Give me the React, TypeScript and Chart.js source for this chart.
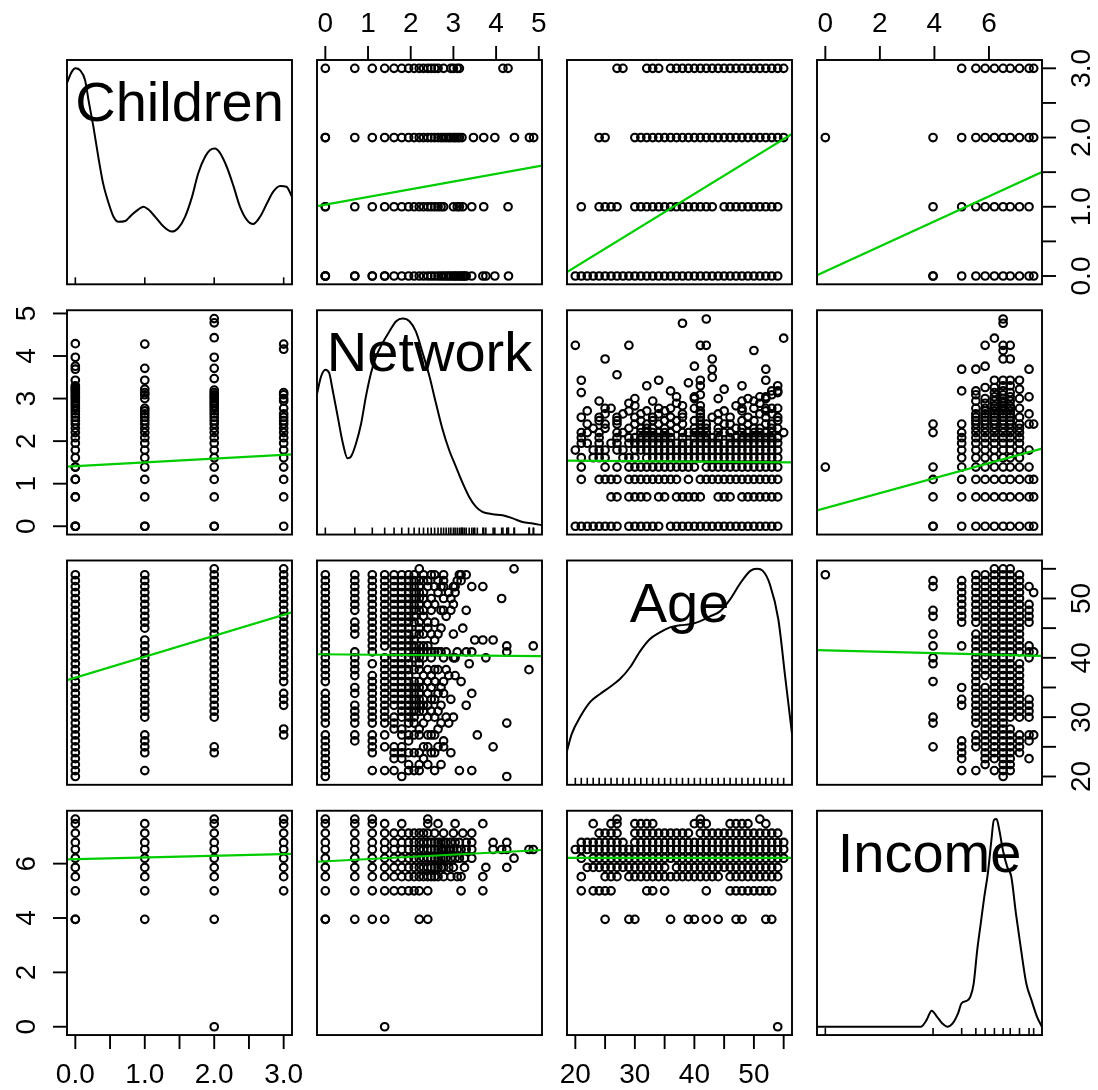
import React, { useEffect, useRef } from "react";
import { Chart, registerables } from "chart.js";

Chart.register(...registerables);

// ---------------- variables ----------------
const variableNames = ["Children", "Network", "Age", "Income"];
const variableMin = [0, 0, 20, 0];
const variableMax = [3, 4.88, 55, 7.64];

// ---------------- ticks ----------------
const childrenTicks = [0, 0.5, 1, 1.5, 2, 2.5, 3];
const childrenTickLabels = ["0.0", "", "1.0", "", "2.0", "", "3.0"];
const networkTicks = [0, 1, 2, 3, 4, 5];
const networkTickLabels = ["0", "1", "2", "3", "4", "5"];
const ageTicks = [20, 25, 30, 35, 40, 45, 50, 55];
const ageTickLabels = ["20", "", "30", "", "40", "", "50", ""];
const incomeTicks = [0, 2, 4, 6];
const incomeTickLabels = ["0", "2", "4", "6"];

// ---------------- Children x Network (network values per children level) ----------------
const networkChildren0 = [0, 0, 0, 0.69, 0.69, 1.1, 1.1, 1.39, 1.39, 1.61, 1.79, 1.95, 2.08, 2.2, 2.3, 2.4, 2.48, 2.56, 2.64, 2.71, 2.77, 2.83, 2.89, 2.94, 3.0, 3.04, 3.09, 3.14, 3.18, 3.22, 3.26, 3.3, 3.43, 3.69, 3.76, 3.97, 4.29];
const networkChildren1 = [0, 0, 0.69, 1.1, 1.39, 1.61, 1.79, 1.95, 2.08, 2.2, 2.3, 2.4, 2.48, 2.56, 2.64, 2.71, 2.77, 3.0, 3.09, 3.14, 3.22, 3.43, 3.71, 4.28];
const networkChildren2 = [0, 0, 0.69, 1.1, 1.39, 1.61, 1.79, 1.95, 2.08, 2.2, 2.3, 2.4, 2.48, 2.56, 2.64, 2.71, 2.77, 2.83, 2.89, 2.94, 3.0, 3.04, 3.09, 3.14, 3.2, 3.47, 3.71, 3.97, 4.43, 4.78, 4.88];
const networkChildren3 = [0, 0.69, 1.1, 1.39, 1.61, 1.79, 1.95, 2.08, 2.2, 2.3, 2.4, 2.48, 2.56, 2.64, 2.77, 2.94, 3.0, 3.09, 3.14, 4.16, 4.28];

// ---------------- Children x Age (ages per children level) ----------------
const ageChildren0 = [20, 21, 22, 23, 24, 25, 26, 27, 28, 29, 30, 31, 32, 33, 34, 35, 36, 37, 38, 39, 40, 41, 42, 43, 44, 45, 46, 47, 48, 49, 50, 51, 52, 53, 54];
const ageChildren1 = [21, 24, 25, 26, 27, 30, 31, 32, 33, 34, 35, 36, 37, 38, 39, 40, 41, 42, 43, 45, 46, 47, 48, 49, 50, 51, 52, 53, 54];
const ageChildren2 = [24, 25, 30, 31, 32, 33, 34, 35, 36, 37, 38, 39, 40, 41, 42, 43, 44, 45, 46, 47, 48, 49, 50, 51, 52, 53, 54, 55];
const ageChildren3 = [27, 28, 32, 33, 34, 36, 37, 38, 39, 40, 41, 42, 43, 44, 45, 46, 47, 48, 49, 50, 51, 52, 53, 54, 55];

// ---------------- Children x Income (income per children level) ----------------
const incomeChildren0 = [3.95, 3.95, 5.0, 5.52, 5.86, 6.2, 6.52, 6.78, 7.12, 7.47, 7.64];
const incomeChildren1 = [3.95, 5.0, 5.52, 5.86, 6.2, 6.52, 6.78, 7.12, 7.47];
const incomeChildren2 = [0, 3.95, 5.0, 5.52, 5.86, 6.2, 6.52, 6.78, 7.12, 7.47, 7.64];
const incomeChildren3 = [5.0, 5.52, 5.86, 6.2, 6.52, 6.78, 7.12, 7.47, 7.64];

// ---------------- Network x Age: [network, ages] ----------------
const ageByNetwork: [number, number[]][] = [
  [0, [20, 21, 22, 23, 24, 25, 26, 27, 29, 30, 31, 32, 33, 34, 36, 37, 38, 39, 40, 41, 42, 43, 44, 45, 46, 47, 48, 49, 50, 51, 52, 53, 54]],
  [0.69, [26, 27, 29, 30, 31, 32, 34, 35, 37, 38, 39, 40, 41, 44, 45, 46, 48, 49, 50, 51, 52, 53, 54]],
  [1.1, [21, 24, 25, 26, 27, 29, 30, 31, 32, 33, 34, 35, 36, 37, 39, 41, 42, 43, 44, 45, 46, 47, 48, 49, 50, 51, 52, 53, 54]],
  [1.39, [21, 25, 27, 29, 30, 31, 32, 33, 34, 35, 36, 37, 38, 39, 40, 42, 43, 44, 45, 46, 47, 48, 49, 50, 51, 52, 53, 54]],
  [1.61, [21, 23, 24, 25, 28, 29, 30, 32, 33, 34, 35, 36, 37, 38, 39, 40, 41, 42, 43, 44, 45, 46, 47, 48, 49, 50, 51, 52, 53, 54]],
  [1.79, [20, 23, 24, 25, 27, 28, 30, 31, 32, 33, 34, 35, 36, 37, 38, 39, 40, 41, 42, 43, 44, 45, 46, 47, 48, 49, 50, 51, 52, 53, 54]],
  [1.95, [21, 22, 24, 26, 27, 29, 30, 31, 32, 33, 34, 35, 36, 37, 38, 39, 40, 41, 42, 43, 44, 45, 46, 47, 48, 49, 50, 51, 52, 53, 54]],
  [2.08, [21, 24, 27, 29, 30, 31, 32, 33, 34, 35, 36, 38, 40, 41, 42, 43, 44, 46, 47, 48, 49, 50, 51, 52, 53, 54]],
  [2.2, [21, 22, 24, 27, 28, 31, 32, 33, 34, 35, 36, 38, 39, 40, 41, 42, 44, 45, 46, 48, 49, 50, 51, 52, 53, 55]],
  [2.3, [23, 25, 29, 31, 32, 33, 35, 37, 40, 41, 42, 44, 47, 48, 50, 51, 53, 54]],
  [2.4, [22, 25, 27, 30, 32, 34, 36, 38, 41, 42, 45, 46, 49, 52, 53]],
  [2.48, [24, 27, 31, 33, 35, 37, 40, 41, 44, 48, 50, 54]],
  [2.56, [21, 24, 27, 30, 33, 36, 38, 41, 43, 46, 49, 52, 54]],
  [2.64, [25, 28, 31, 34, 38, 41, 44, 51, 53]],
  [2.71, [22, 29, 32, 35, 41, 45, 48, 52]],
  [2.77, [25, 26, 34, 36, 40, 48, 50, 52, 53, 54]],
  [2.83, [30, 38, 41, 47]],
  [2.89, [29, 37, 51]],
  [2.94, [24, 33, 48, 50]],
  [3.0, [30, 40, 44, 49, 52]],
  [3.04, [37, 40, 51, 52]],
  [3.09, [41, 53]],
  [3.14, [21, 54]],
  [3.18, [36, 53, 54]],
  [3.22, [45]],
  [3.3, [32, 41, 48, 54]],
  [3.37, [39]],
  [3.43, [21, 34, 41, 52]],
  [3.5, [43]],
  [3.56, [27]],
  [3.69, [43, 52]],
  [3.76, [40]],
  [3.93, [25, 43]],
  [4.13, [50]],
  [4.25, [20, 29, 41, 42]],
  [4.42, [55]],
  [4.77, [38]],
  [4.87, [42]],
];

// ---------------- Network x Income: [income, network values] ----------------
const networkByIncome: [number, number[]][] = [
  [0, [1.39]],
  [3.95, [0, 0, 0.69, 1.1, 1.39, 2.2, 2.4]],
  [5.0, [0, 0.69, 1.1, 1.39, 1.61, 1.79, 1.95, 2.08, 2.2, 2.4, 3.18, 3.69]],
  [5.52, [0, 0.69, 1.1, 1.39, 1.61, 1.79, 1.95, 2.08, 2.2, 2.3, 2.4, 2.48, 2.56, 2.64, 2.77, 2.94, 3.09, 3.18, 3.69]],
  [5.86, [0, 0.69, 1.1, 1.39, 1.61, 1.79, 1.95, 2.08, 2.2, 2.3, 2.4, 2.48, 2.56, 2.64, 2.71, 2.77, 2.89, 3.0, 3.26, 3.76, 4.25]],
  [6.2, [0, 0.69, 1.1, 1.39, 1.61, 1.79, 1.95, 2.08, 2.2, 2.3, 2.4, 2.48, 2.56, 2.64, 2.71, 2.77, 2.83, 2.94, 3.04, 3.14, 3.26, 3.43, 4.42]],
  [6.52, [0, 0.69, 1.1, 1.39, 1.61, 1.79, 1.95, 2.08, 2.2, 2.3, 2.4, 2.48, 2.56, 2.64, 2.71, 2.77, 2.83, 2.89, 2.94, 3.0, 3.09, 3.18, 3.3, 3.43, 3.93, 4.13, 4.25, 4.77, 4.87]],
  [6.78, [0, 0.69, 1.1, 1.39, 1.61, 1.79, 1.95, 2.08, 2.2, 2.3, 2.4, 2.48, 2.56, 2.64, 2.71, 2.77, 2.83, 2.94, 3.04, 3.14, 3.3, 3.43, 3.93, 4.25]],
  [7.12, [0, 0.69, 1.1, 1.39, 1.61, 1.79, 1.95, 2.08, 2.2, 2.3, 2.4, 2.56, 2.77, 3.0, 3.22, 3.43]],
  [7.47, [0, 0.69, 1.1, 1.39, 1.79, 2.4, 2.64, 3.04, 3.69]],
  [7.64, [0, 0.69, 1.1, 2.4]],
];

// ---------------- Age x Income: [income, ages] ----------------
const ageByIncome: [number, number[]][] = [
  [0, [54]],
  [3.95, [25, 29, 30, 36, 39, 40, 42, 44, 47, 48, 52, 53]],
  [5.0, [21, 23, 24, 25, 26, 32, 33, 35, 42, 46, 47, 48, 49, 50, 51, 52, 53]],
  [5.52, [21, 25, 26, 27, 29, 30, 31, 32, 33, 34, 35, 36, 37, 38, 39, 40, 41, 42, 43, 44, 46, 47, 48, 49, 50, 51, 52, 53, 54]],
  [5.86, [22, 23, 24, 25, 26, 27, 28, 29, 30, 31, 32, 33, 34, 35, 37, 38, 39, 40, 41, 42, 43, 44, 45, 46, 47, 48, 49, 50, 51, 52, 53, 54]],
  [6.2, [21, 23, 24, 25, 26, 27, 28, 29, 30, 31, 32, 33, 34, 35, 36, 37, 38, 39, 40, 41, 42, 43, 44, 45, 46, 47, 48, 49, 50, 51, 52, 53, 54, 55]],
  [6.52, [20, 21, 22, 23, 24, 25, 26, 27, 28, 29, 30, 31, 32, 33, 34, 35, 36, 37, 38, 39, 40, 41, 42, 43, 44, 45, 46, 47, 48, 49, 50, 51, 52, 53, 54, 55]],
  [6.78, [21, 22, 23, 24, 25, 26, 27, 28, 30, 31, 32, 33, 34, 35, 36, 37, 38, 39, 40, 41, 42, 43, 44, 45, 46, 47, 48, 49, 50, 51, 52, 53, 54, 55]],
  [7.12, [24, 25, 26, 27, 30, 31, 32, 33, 34, 35, 36, 37, 38, 39, 41, 42, 43, 44, 45, 46, 47, 48, 49, 50, 51, 52, 53, 54]],
  [7.47, [23, 26, 27, 30, 31, 32, 33, 40, 41, 42, 46, 47, 48, 49, 52]],
  [7.64, [27, 41, 51]],
];

// ---------------- regression lines: row variable (y) on column variable (x) ----------------
const fitIntercept = [
  [NaN, 1.032, -0.922, 0.065],
  [1.411, NaN, 1.56, 0.424],
  [36.66, 40.59, NaN, 41.245],
  [6.167, 6.086, 6.21, NaN],
];
const fitSlope = [
  [NaN, 0.111, 0.0527, 0.181],
  [0.0895, NaN, -0.00106, 0.176],
  [3.53, -0.057, NaN, -0.115],
  [0.062, 0.082, 0, NaN],
];

// ---------------- kernel densities (relative height, peak = 1) ----------------
const childrenDensity: [number, number][] = [
  [-0.12, 0.93], [-0.05, 0.984], [0.0, 1.0], [0.07, 0.99], [0.14, 0.944], [0.19, 0.846], [0.26, 0.719],
  [0.33, 0.575], [0.4, 0.446], [0.48, 0.35], [0.55, 0.285], [0.62, 0.261], [0.72, 0.265], [0.81, 0.294],
  [0.91, 0.321], [0.98, 0.334], [1.05, 0.321], [1.15, 0.285], [1.27, 0.238], [1.39, 0.214], [1.48, 0.23],
  [1.58, 0.285], [1.68, 0.381], [1.77, 0.495], [1.87, 0.575], [1.94, 0.607], [2.01, 0.614], [2.08, 0.594],
  [2.18, 0.526], [2.28, 0.43], [2.37, 0.334], [2.47, 0.27], [2.56, 0.25], [2.66, 0.285], [2.76, 0.35],
  [2.85, 0.406], [2.95, 0.433], [3.04, 0.43], [3.12, 0.381],
];
const networkDensity: [number, number][] = [
  [-0.2, 0.633], [-0.1, 0.721], [0.0, 0.754], [0.09, 0.738], [0.17, 0.657], [0.29, 0.528], [0.41, 0.4],
  [0.52, 0.327], [0.6, 0.335], [0.72, 0.4], [0.84, 0.496], [0.95, 0.624], [1.07, 0.738], [1.19, 0.818],
  [1.34, 0.882], [1.5, 0.938], [1.66, 0.987], [1.81, 1.0], [1.97, 0.987], [2.12, 0.938], [2.28, 0.834],
  [2.44, 0.721], [2.59, 0.593], [2.75, 0.463], [2.9, 0.367], [3.06, 0.286], [3.22, 0.206], [3.37, 0.141],
  [3.53, 0.093], [3.68, 0.069], [3.92, 0.058], [4.15, 0.053], [4.39, 0.038], [4.62, 0.02], [4.86, 0.013],
  [5.07, 0.005],
];
const ageDensity: [number, number][] = [
  [18.6, 0.123], [19.4, 0.205], [20.8, 0.286], [22.5, 0.359], [24.1, 0.396], [25.8, 0.431], [27.5, 0.469],
  [29.2, 0.526], [30.9, 0.604], [32.5, 0.661], [34.2, 0.694], [35.9, 0.718], [37.6, 0.728], [39.3, 0.733],
  [40.9, 0.747], [42.6, 0.771], [44.3, 0.795], [46.0, 0.853], [47.7, 0.93], [49.4, 0.99], [50.5, 1.0],
  [51.5, 0.99], [52.7, 0.924], [54.1, 0.757], [55.3, 0.469], [56.4, 0.205],
];
const incomeDensity: [number, number][] = [
  [-0.3, 0.0], [3.5, 0.0], [3.71, 0.032], [3.9, 0.077], [4.09, 0.049], [4.29, 0.016], [4.48, 0.0],
  [4.67, 0.016], [4.87, 0.065], [4.99, 0.112], [5.19, 0.125], [5.32, 0.145], [5.44, 0.208], [5.57, 0.369],
  [5.7, 0.498], [5.83, 0.626], [5.96, 0.739], [6.09, 0.899], [6.18, 0.995], [6.28, 1.0], [6.38, 0.947],
  [6.51, 0.851], [6.67, 0.77], [6.82, 0.722], [6.99, 0.545], [7.18, 0.369], [7.37, 0.208], [7.56, 0.128],
  [7.76, 0.049], [7.94, 0.0],
];

// ---------------- layout constants ----------------
const PANEL_LEFT0 = 67;
const PANEL_TOP0 = 60;
const STEP_X = 250;
const STEP_Y = 250.25;
const PANEL_W = 225;
const PANEL_H = 224.3;
const MARGIN = 62;
const FONT_FAMILY = '"Liberation Sans", Arial, Helvetica, sans-serif';
const LABEL_FONT = "28px " + FONT_FAMILY;
const TITLE_FONT = "56px " + FONT_FAMILY;
const GREEN = "#00CD00";
const TICK_LEN = 14;

const tickValues = [childrenTicks, networkTicks, ageTicks, incomeTicks];
const tickLabels = [childrenTickLabels, networkTickLabels, ageTickLabels, incomeTickLabels];
const densities = [childrenDensity, networkDensity, ageDensity, incomeDensity];

function extRange(k: number): [number, number] {
  const span = variableMax[k] - variableMin[k];
  return [variableMin[k] - 0.04 * span, variableMax[k] + 0.04 * span];
}

// records for pair (a, b) with a < b: [value of a, value of b]
function pairRecords(a: number, b: number): [number, number][] {
  const out: [number, number][] = [];
  const byChildren = (lists: number[][]) =>
    lists.forEach((vals, c) => vals.forEach((v) => out.push([c, v])));
  const key = `${a}${b}`;
  if (key === "01") byChildren([networkChildren0, networkChildren1, networkChildren2, networkChildren3]);
  if (key === "02") byChildren([ageChildren0, ageChildren1, ageChildren2, ageChildren3]);
  if (key === "03") byChildren([incomeChildren0, incomeChildren1, incomeChildren2, incomeChildren3]);
  if (key === "12") ageByNetwork.forEach(([n, ages]) => ages.forEach((ag) => out.push([n, ag])));
  if (key === "13") networkByIncome.forEach(([inc, nets]) => nets.forEach((n) => out.push([n, inc])));
  if (key === "23") ageByIncome.forEach(([inc, ages]) => ages.forEach((ag) => out.push([ag, inc])));
  return out;
}

function panelPoints(i: number, j: number) {
  if (i < j) return pairRecords(i, j).map(([a, b]) => ({ x: b, y: a }));
  return pairRecords(j, i).map(([a, b]) => ({ x: a, y: b }));
}

function uniqueValues(k: number): number[] {
  const s = new Set<number>();
  for (let o = 0; o < 4; o++) {
    if (o === k) continue;
    const a = Math.min(k, o), b = Math.max(k, o);
    pairRecords(a, b).forEach((r) => s.add(k === a ? r[0] : r[1]));
  }
  return Array.from(s).sort((p, q) => p - q);
}

function geometry(i: number, j: number) {
  const pl = PANEL_LEFT0 + STEP_X * j;
  const pt = PANEL_TOP0 + STEP_Y * i;
  const cx = Math.floor(pl - MARGIN);
  const cy = Math.floor(pt - MARGIN);
  const cw = Math.ceil(PANEL_W + 2 * MARGIN) + 2;
  const ch = Math.ceil(PANEL_H + 2 * MARGIN) + 2;
  const padL = pl - cx;
  const padT = pt - cy;
  return {
    cx, cy, cw, ch,
    padding: { left: padL, top: padT, right: cw - padL - PANEL_W, bottom: ch - padT - PANEL_H },
  };
}

function decorPlugin(i: number, j: number) {
  return {
    id: "decor",
    afterDraw(chart: any) {
      const ctx: CanvasRenderingContext2D = chart.ctx;
      const area = chart.chartArea;
      const xs = chart.scales.x;
      const ys = chart.scales.y;
      const seg = (x1: number, y1: number, x2: number, y2: number) => {
        ctx.beginPath();
        ctx.moveTo(x1, y1);
        ctx.lineTo(x2, y2);
        ctx.stroke();
      };
      ctx.save();
      ctx.strokeStyle = "#000";
      ctx.fillStyle = "#000";
      ctx.lineWidth = 1.9;
      ctx.strokeRect(area.left, area.top, area.right - area.left, area.bottom - area.top);
      ctx.font = LABEL_FONT;
      ctx.textAlign = "center";
      ctx.textBaseline = "alphabetic";
      // top axis
      if (i === 0 && j % 2 === 1) {
        tickValues[j].forEach((v, k) => {
          const x = xs.getPixelForValue(v);
          seg(x, area.top, x, area.top - TICK_LEN);
          if (tickLabels[j][k]) ctx.fillText(tickLabels[j][k], x, area.top - 28);
        });
      }
      // bottom axis
      if (i === 3 && j % 2 === 0) {
        tickValues[j].forEach((v, k) => {
          const x = xs.getPixelForValue(v);
          seg(x, area.bottom, x, area.bottom + TICK_LEN);
          if (tickLabels[j][k]) ctx.fillText(tickLabels[j][k], x, area.bottom + 48);
        });
      }
      // left axis
      if (j === 0 && i % 2 === 1) {
        tickValues[i].forEach((v, k) => {
          const y = ys.getPixelForValue(v);
          seg(area.left, y, area.left - TICK_LEN, y);
          if (tickLabels[i][k]) {
            ctx.save();
            ctx.translate(area.left - 32, y);
            ctx.rotate(-Math.PI / 2);
            ctx.fillText(tickLabels[i][k], 0, 0);
            ctx.restore();
          }
        });
      }
      // right axis
      if (j === 3 && i % 2 === 0) {
        tickValues[i].forEach((v, k) => {
          const y = ys.getPixelForValue(v);
          seg(area.right, y, area.right + TICK_LEN, y);
          if (tickLabels[i][k]) {
            ctx.save();
            ctx.translate(area.right + 48, y);
            ctx.rotate(-Math.PI / 2);
            ctx.fillText(tickLabels[i][k], 0, 0);
            ctx.restore();
          }
        });
      }
      // diagonal: rug + variable name
      if (i === j) {
        ctx.lineWidth = 1.6;
        uniqueValues(i).forEach((v) => {
          const x = xs.getPixelForValue(v);
          seg(x, area.bottom, x, area.bottom - 7);
        });
        ctx.font = TITLE_FONT;
        ctx.fillText(variableNames[i], (area.left + area.right) / 2, area.top + 61);
      }
      ctx.restore();
    },
  };
}

function buildConfig(i: number, j: number): any {
  const xr = extRange(j);
  const yr: [number, number] = i === j ? [-0.04, 1.04] : extRange(i);
  const datasets: any[] = [];
  if (i === j) {
    datasets.push({
      data: densities[i].map(([x, y]) => ({ x, y })),
      showLine: true,
      borderColor: "#000",
      borderWidth: 2,
      pointRadius: 0,
      cubicInterpolationMode: "monotone",
      fill: false,
      clip: 0,
    });
  } else {
    const a = fitIntercept[i][j];
    const b = fitSlope[i][j];
    datasets.push({
      data: [
        { x: xr[0], y: a + b * xr[0] },
        { x: xr[1], y: a + b * xr[1] },
      ],
      showLine: true,
      borderColor: GREEN,
      borderWidth: 2.2,
      pointRadius: 0,
      fill: false,
      clip: 0,
    });
    datasets.push({
      data: panelPoints(i, j),
      showLine: false,
      pointStyle: "circle",
      pointRadius: 3.8,
      radius: 3.8,
      borderWidth: 2.1,
      pointBorderWidth: 2.1,
      borderColor: "#000",
      pointBorderColor: "#000",
      backgroundColor: "rgba(0,0,0,0)",
      pointBackgroundColor: "rgba(0,0,0,0)",
      clip: false,
    });
  }
  return {
    type: "scatter",
    data: { datasets },
    options: {
      responsive: false,
      maintainAspectRatio: false,
      animation: false,
      devicePixelRatio: 1,
      events: [],
      layout: { padding: geometry(i, j).padding },
      elements: { point: { radius: 3.8, borderWidth: 2.1 } },
      plugins: { legend: { display: false }, tooltip: { enabled: false } },
      scales: {
        x: { type: "linear", display: false, min: xr[0], max: xr[1] },
        y: { type: "linear", display: false, min: yr[0], max: yr[1] },
      },
    },
    plugins: [decorPlugin(i, j)],
  };
}

function Panel({ i, j }: { i: number; j: number }) {
  const ref = useRef<HTMLCanvasElement>(null);
  const g = geometry(i, j);
  useEffect(() => {
    const chart = new Chart(ref.current as HTMLCanvasElement, buildConfig(i, j));
    return () => chart.destroy();
  }, [i, j]);
  return (
    <canvas
      ref={ref}
      width={g.cw}
      height={g.ch}
      style={{ position: "absolute", left: g.cx, top: g.cy, width: g.cw, height: g.ch }}
    />
  );
}

export default function App() {
  const cells: JSX.Element[] = [];
  for (let i = 0; i < 4; i++) for (let j = 0; j < 4; j++) cells.push(<Panel key={`${i}-${j}`} i={i} j={j} />);
  return (
    <div
      style={{
        position: "absolute",
        left: 0,
        top: 0,
        width: 1098,
        height: 1090,
        overflow: "hidden",
        background: "#fff",
      }}
    >
      {cells}
    </div>
  );
}
